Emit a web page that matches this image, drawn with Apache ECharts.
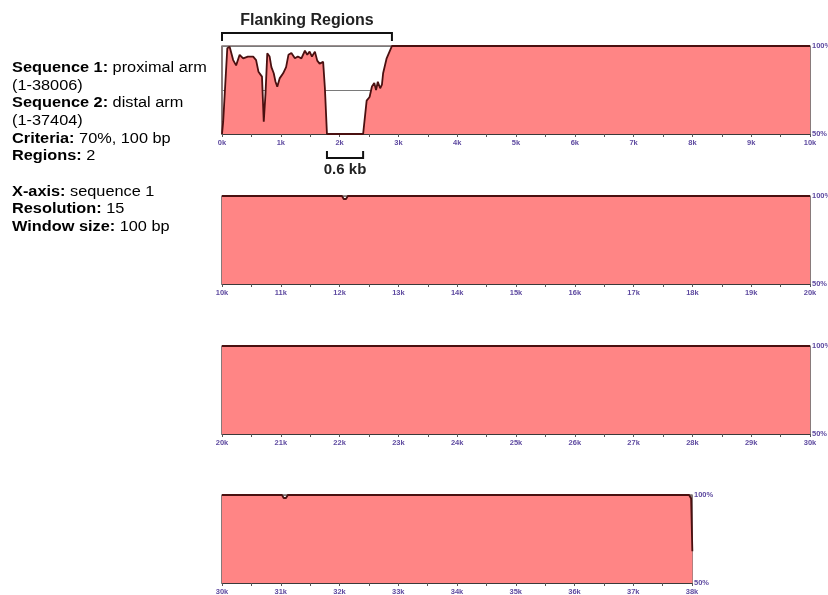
<!DOCTYPE html>
<html>
<head>
<meta charset="utf-8">
<script src="https://cdn.jsdelivr.net/npm/echarts@6/dist/echarts.min.js"></script>
<style>
  html, body { margin: 0; padding: 0; background: #fff; }
  #chart { width: 828px; height: 595px; }
</style>
</head>
<body>
<div id="chart"></div>
<script>
// Percent identity (%) along sequence 1, one row per 10 kb panel.
var row1Pos = [0, 20, 90, 130, 190, 240, 300, 360, 440, 530, 580, 620, 650, 680, 710, 740, 770, 810, 840, 880, 910, 940, 980,
  1040, 1090, 1130, 1180, 1240, 1290, 1350, 1410, 1450, 1490, 1530, 1580, 1620, 1660, 1720, 1750, 1785,
  2400, 2410, 2460, 2510, 2550, 2590, 2620, 2650, 2690, 2720, 2740, 2800, 2860, 2890, 10000];
var row1Pct = [50, 57, 98.7, 99.6, 92, 89, 95, 93, 94, 94, 92, 85.4, 86.4, 82.6, 57, 73, 95.8, 94, 88, 84.5, 79.7, 76.9, 81.6,
  84.5, 88, 95, 96, 93, 94, 93, 97.3, 95, 96.8, 94, 96.8, 91.7, 90, 91, 76, 50,
  50, 50.4, 69, 71, 77, 79, 75, 79.7, 76, 78, 84.5, 93, 97.7, 100, 100];

var row2Pos = [10000, 12040, 12070, 12090, 12110, 12140, 20000];
var row2Pct = [100, 100, 98.3, 97.8, 98.3, 100, 100];

var row3Pos = [20000, 30000];
var row3Pct = [100, 100];

var row4Pos = [30000, 31020, 31050, 31070, 31090, 31120, 37950, 37985, 38006];
var row4Pct = [100, 100, 98.3, 97.8, 98.3, 100, 100, 98, 68];

var rowStarts = [0, 10000, 20000, 30000];
var rowAxisMax = [10000, 20000, 30000, 38000];

// Annotated spans (bp)
var flankSpan = [0, 2890];
var gapSpan = [1785, 2400];

var infoLines = [
  ['Sequence 1:', ' proximal arm'],
  ['', '(1-38006)'],
  ['Sequence 2:', ' distal arm'],
  ['', '(1-37404)'],
  ['Criteria:', ' 70%, 100 bp'],
  ['Regions:', ' 2'],
  null,
  ['X-axis:', ' sequence 1'],
  ['Resolution:', ' 15'],
  ['Window size:', ' 100 bp']
];

var rows = [[row1Pos, row1Pct], [row2Pos, row2Pct], [row3Pos, row3Pct], [row4Pos, row4Pct]];
var FONT = '"Liberation Sans", Arial, sans-serif';
var tickColor = '#5e4aa0';
var gridTops = [46, 196, 346, 495];
var gridH = 88;
var pxPerBp = 588 / 10000;

var grids = [], xAxes = [], yAxes = [], series = [];
rows.forEach(function (r, i) {
  var width = Math.round((rowAxisMax[i] - rowStarts[i]) * pxPerBp);
  grids.push({ left: 222, top: gridTops[i], width: width, height: gridH,
    outerBoundsMode: 'none', containLabel: false,
    show: true, borderColor: '#3a2222', borderWidth: 1.2 });
  xAxes.push({
    type: 'value', gridIndex: i, min: rowStarts[i], max: rowAxisMax[i], interval: 500,
    axisLine: { show: true, lineStyle: { color: '#3a3a3a', width: 1 } },
    axisTick: { show: true, length: 3, lineStyle: { color: '#555' } },
    splitLine: { show: false },
    axisLabel: {
      show: true, fontSize: 7.5, fontFamily: FONT, color: tickColor, margin: 5, fontWeight: 'bold',
      formatter: function (v) { return v % 1000 === 0 ? (v / 1000) + 'k' : ''; }
    }
  });
  yAxes.push({
    type: 'value', gridIndex: i, position: 'right', min: 50, max: 100, interval: 25,
    axisLine: { show: false }, axisTick: { show: false },
    splitLine: { show: true, lineStyle: { color: '#7a7a7a', width: 1 } },
    axisLabel: {
      show: true, fontSize: 7.5, fontFamily: FONT, color: tickColor, margin: 2, fontWeight: 'bold',
      formatter: function (v) { return v === 75 ? '' : v + '%'; }
    }
  });
  var pts = r[0].map(function (p, k) { return [p, r[1][k]]; });
  series.push({
    type: 'line', xAxisIndex: i, yAxisIndex: i, data: pts, showSymbol: false, symbol: 'none',
    smooth: false, animation: false, silent: true,
    lineStyle: { color: '#4a1010', width: 1.8 },
    areaStyle: { color: '#ff8585', opacity: 1, origin: 'start' },
    z: 3
  });
});

var chart = echarts.init(document.getElementById('chart'), null, { renderer: 'canvas' });
chart.setOption({
  animation: false,
  backgroundColor: '#ffffff',
  grid: grids, xAxis: xAxes, yAxis: yAxes, series: series
});

// Annotations placed through the first panel's axes
function px(x, y) { return chart.convertToPixel({ xAxisIndex: 0, yAxisIndex: 0 }, [x, y]); }
var fL = px(flankSpan[0], 100), fR = px(flankSpan[1], 100);
var gL = px(gapSpan[0], 50), gR = px(gapSpan[1], 50);
var g = [];
var by = fL[1] - 13;
g.push({ type: 'polyline', shape: { points: [[fL[0], by + 8], [fL[0], by], [fR[0], by], [fR[0], by + 8]] },
  style: { stroke: '#111', lineWidth: 2, fill: null }, z: 10 });
g.push({ type: 'text', x: (fL[0] + fR[0]) / 2, y: by - 12,
  style: { text: 'Flanking Regions', font: 'bold 16px ' + FONT, fill: '#222', align: 'center', verticalAlign: 'middle' }, z: 10 });
var gy = gL[1] + 24;
g.push({ type: 'polyline', shape: { points: [[gL[0], gy - 7], [gL[0], gy], [gR[0], gy], [gR[0], gy - 7]] },
  style: { stroke: '#111', lineWidth: 2, fill: null }, z: 10 });
g.push({ type: 'text', x: (gL[0] + gR[0]) / 2, y: gy + 12,
  style: { text: '0.6 kb', font: 'bold 15px ' + FONT, fill: '#222', align: 'center', verticalAlign: 'middle' }, z: 10 });

var lineY = 68;
infoLines.forEach(function (ln) {
  if (ln === null) { lineY += 17.7; return; }
  g.push({ type: 'text', x: 12, y: lineY, scaleX: 1.165,
    style: {
      text: (ln[0] ? '{b|' + ln[0] + '}' : '') + '{r|' + ln[1] + '}',
      rich: {
        b: { font: 'bold 14px ' + FONT, fill: '#000' },
        r: { font: '14px ' + FONT, fill: '#000' }
      },
      verticalAlign: 'middle'
    }, z: 10 });
  lineY += 17.7;
});
chart.setOption({ graphic: g });
</script>
</body>
</html>
